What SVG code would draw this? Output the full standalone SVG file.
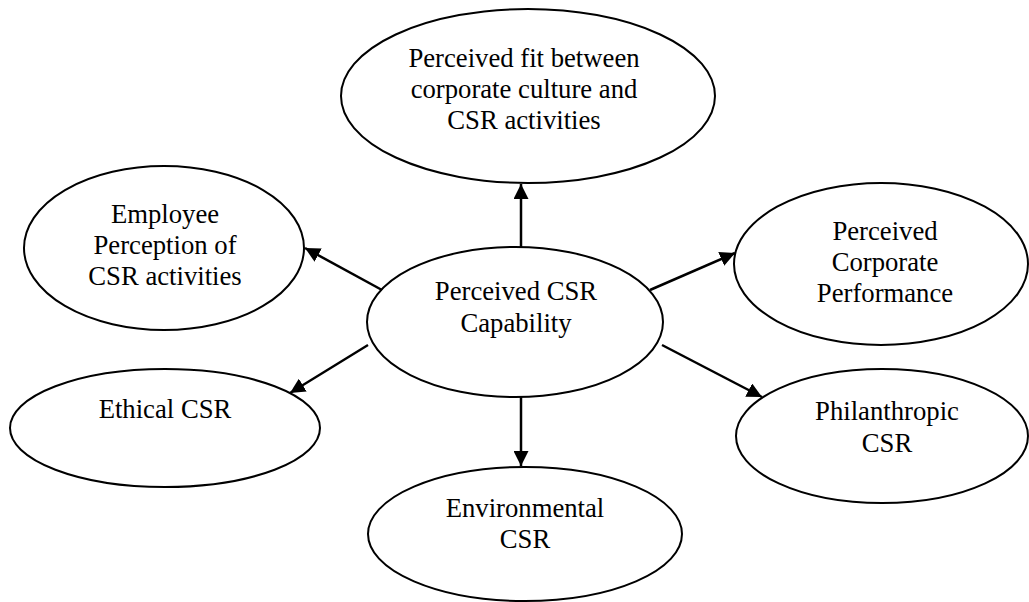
<svg xmlns="http://www.w3.org/2000/svg" width="1029" height="602" viewBox="0 0 1029 602">
<defs>
<style>
.n ellipse{fill:#fff;stroke:#000;stroke-width:2}
text{font-family:"Liberation Serif","Times New Roman",serif;font-size:26.7px;fill:#000;text-anchor:middle}
.c line{stroke:#000;stroke-width:2.5}
</style>
<marker id="ah" viewBox="0 0 10 10" refX="10" refY="5" markerWidth="6" markerHeight="6" markerUnits="strokeWidth" orient="auto">
<path d="M0,0 L10,5 L0,10 z" fill="#000"/>
</marker>
</defs>
<rect width="1029" height="602" fill="#fff"/>
<g id="n-fit" class="n">
<ellipse cx="528" cy="96" rx="187" ry="87"/>
<text x="524" y="67">Perceived fit between</text>
<text x="524" y="98">corporate culture and</text>
<text x="524" y="129">CSR activities</text>
</g>
<g id="n-employee" class="n">
<ellipse cx="164" cy="248" rx="140" ry="82"/>
<text x="165" y="223">Employee</text>
<text x="165" y="254">Perception of</text>
<text x="165" y="285">CSR activities</text>
</g>
<g id="n-center" class="n">
<ellipse cx="515" cy="322" rx="148" ry="75"/>
<text x="516" y="300">Perceived CSR</text>
<text x="516" y="332">Capability</text>
</g>
<g id="n-performance" class="n">
<ellipse cx="881" cy="264" rx="147" ry="81"/>
<text x="885" y="240">Perceived</text>
<text x="885" y="271">Corporate</text>
<text x="885" y="302">Performance</text>
</g>
<g id="n-ethical" class="n">
<ellipse cx="165" cy="428" rx="155" ry="59"/>
<text x="165" y="418">Ethical CSR</text>
</g>
<g id="n-philanthropic" class="n">
<ellipse cx="882" cy="436" rx="146" ry="67"/>
<text x="887" y="420">Philanthropic</text>
<text x="887" y="452">CSR</text>
</g>
<g id="n-environmental" class="n">
<ellipse cx="525" cy="534" rx="157" ry="67"/>
<text x="525" y="517">Environmental</text>
<text x="525" y="548">CSR</text>
</g>
<g id="connectors" class="c">
<line x1="521" y1="247" x2="521" y2="184" marker-end="url(#ah)"/>
<line x1="382" y1="290" x2="305" y2="248" marker-end="url(#ah)"/>
<line x1="650" y1="290" x2="735" y2="253" marker-end="url(#ah)"/>
<line x1="368" y1="345" x2="290" y2="393" marker-end="url(#ah)"/>
<line x1="662" y1="345" x2="762" y2="397" marker-end="url(#ah)"/>
<line x1="521" y1="397" x2="521" y2="466" marker-end="url(#ah)"/>
</g>
</svg>
